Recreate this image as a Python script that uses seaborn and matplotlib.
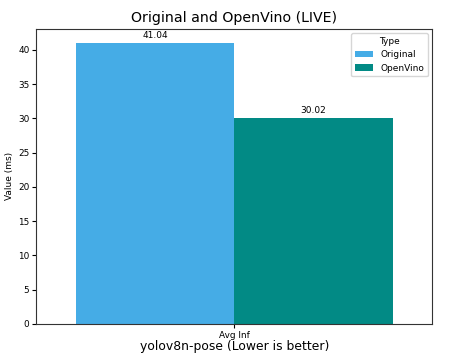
import matplotlib
matplotlib.use("Agg")
import matplotlib.pyplot as plt
import seaborn as sns
import pandas as pd

metrics = ["Avg Inf", "Avg Inf"]
types = ["Original", "OpenVino"]
values = [41.04, 30.02]
palette = {"Original": "#45ACE6", "OpenVino": "#028A85"}

df = pd.DataFrame({"Metric": metrics, "Type": types, "Value": values})

fig, ax = plt.subplots(figsize=(4.54, 3.58), dpi=100)
sns.barplot(data=df, x="Metric", y="Value", hue="Type", palette=palette,
            saturation=1, ax=ax)
for c in ax.containers:
    ax.bar_label(c, fmt="%.2f", fontsize=6.5, padding=2)
ax.set_title("Original and OpenVino (LIVE)", fontsize=10.2, pad=4.5)
ax.set_xlabel("yolov8n-pose (Lower is better)", fontsize=8.9, labelpad=0)
ax.set_ylabel("Value (ms)", fontsize=6.5, labelpad=3)
ax.tick_params(labelsize=6.4, pad=2, length=3)
for s in ax.spines.values():
    s.set_color("#333333")
leg = ax.legend(title="Type", fontsize=6.5, title_fontsize=6.5, loc="upper right")
fig.subplots_adjust(left=0.08, right=0.952, top=0.92, bottom=0.095)
fig.savefig("out.png", dpi=100)
